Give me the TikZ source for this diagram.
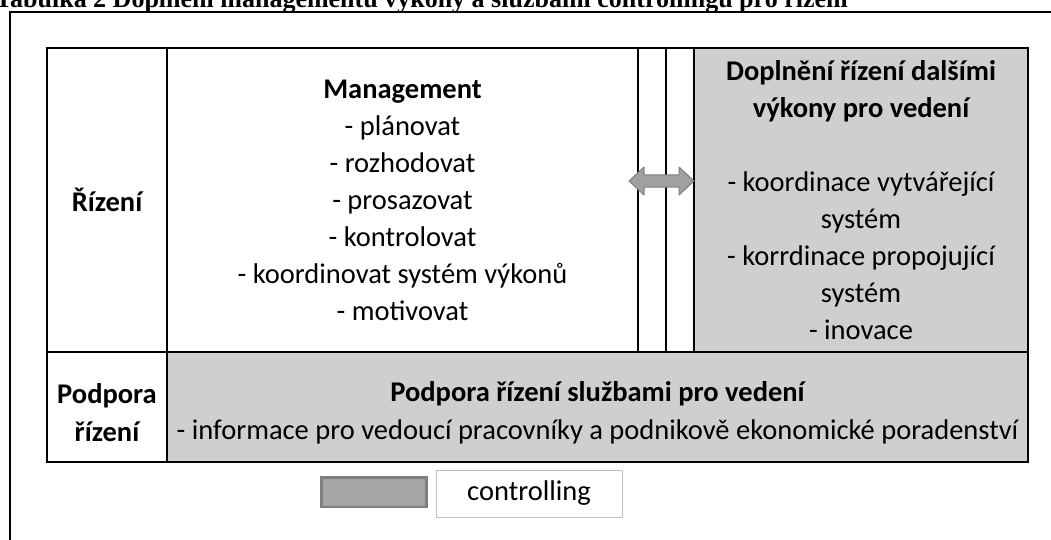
\documentclass[tikz,border=0pt]{standalone}
\usepackage{fontspec}
\setmainfont{Carlito}
\newfontfamily\captionfont{Liberation Serif}
\definecolor{cellgray}{HTML}{D0CECE}
\definecolor{keygray}{HTML}{A5A5A5}
\definecolor{keyedge}{HTML}{7F7F7F}
\definecolor{arrowgray}{HTML}{A0A0A0}
\definecolor{arrowedge}{HTML}{808080}
\definecolor{boxedge}{HTML}{C0C0C0}
\begin{document}
\begin{tikzpicture}[x=1pt,y=-1pt,
  cell/.style={draw=black, line width=1.5pt, rectangle, inner sep=0pt, outer sep=0pt,
    anchor=north west, align=center, font=\fontsize{28.5}{37}\selectfont},
  shaded/.style={cell, fill=cellgray},
  celltext/.style={inner sep=0pt, align=center, font=\fontsize{28.5}{38}\selectfont}]
\useasboundingbox (0,0) rectangle (1051,540);
\clip (0,0) rectangle (1051,540);

% caption above the frame
\node[anchor=base west, inner sep=0pt, font=\captionfont\bfseries\fontsize{26}{30}\selectfont]
  (caption) at (-5,8) {Tabulka 2 Doplnění managementu výkony a službami controllingu pro řízení};

% frame around the figure
\draw[line width=2pt] (10.3,545) -- (10.3,12.3) -- (1056,12.3);

% upper row: management
\node[cell, minimum width=120pt, minimum height=304pt] (riz) at (47,48) {\bfseries Řízení};
\node[cell, minimum width=471pt, minimum height=304pt] (mgmt) at (167,48)
  {\bfseries Management\\- plánovat\\- rozhodovat\\- prosazovat\\- kontrolovat\\- koordinovat systém výkonů\\- motivovat};
\node[cell, minimum width=28pt, minimum height=304pt] (gapa) at (638,48) {};
\node[cell, minimum width=28pt, minimum height=304pt] (gapb) at (666,48) {};
\node[shaded, minimum width=334pt, minimum height=304pt] (dopl) at (694,48)
  {\bfseries Doplnění řízení dalšími\\\bfseries výkony pro vedení\\[37pt]- koordinace vytvářející\\systém\\- korrdinace propojující\\systém\\- inovace};

% lower row: support of management
\node[cell, minimum width=120pt, minimum height=110pt] (podp) at (47,352) {};
\node[shaded, minimum width=861pt, minimum height=110pt] (sluz) at (167,352) {};
\node[celltext] (podpt) at ([yshift=-6pt]podp.center) {\bfseries Podpora\\\bfseries řízení};
\node[celltext] (sluzt) at ([yshift=-6pt]sluz.center)
  {\bfseries Podpora řízení službami pro vedení\\- informace pro vedoucí pracovníky a podnikově ekonomické poradenství};

% thicker outline of the whole table
\draw[line width=2pt] (riz.north west) rectangle (sluz.south east);

% two-way block arrow between management and controlling
\filldraw[fill=arrowgray, draw=arrowedge, line width=1pt, line join=round]
  (629,181) -- (644,167) -- (644,175) -- (679,175) -- (679,167) -- (694,181)
  -- (679,195) -- (679,187) -- (644,187) -- (644,195) -- cycle;

% legend
\node[draw=keyedge, fill=keygray, line width=2.5pt, rectangle, inner sep=0pt, outer sep=0pt,
  anchor=north west, minimum width=105pt, minimum height=29.5pt] (key) at (321.25,477.25) {};
\node[draw=boxedge, fill=white, line width=1pt, rectangle, inner sep=0pt, outer sep=0pt,
  anchor=north west, minimum width=186pt, minimum height=47pt,
  font=\fontsize{28.5}{32}\selectfont] (keylabel) at (436,470) {controlling};
\end{tikzpicture}
\end{document}
